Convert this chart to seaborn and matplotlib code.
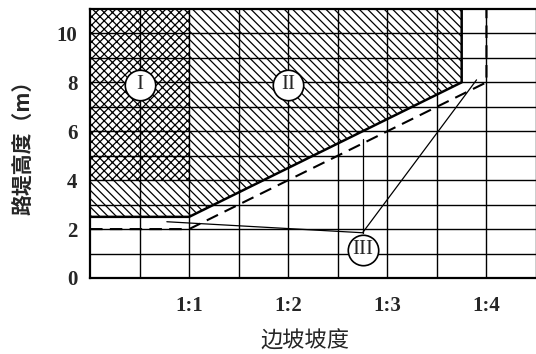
import matplotlib
matplotlib.use("Agg")
import matplotlib.pyplot as plt
import pandas as pd
import seaborn as sns

# 坡度刻度（x 方向每格 0.5，1:1 在第 2 格）
slope_pos = [2, 4, 6, 8]
slope_labels = ["1:1", "1:2", "1:3", "1:4"]
height_ticks = [0, 2, 4, 6, 8, 10]

# 区域 II 下边界（实线）
solid_x = [0, 2, 7.5, 7.5]
solid_y = [2.5, 2.5, 8, 11]

# 虚线边界
dash_x = [0, 2, 8, 8]
dash_y = [2, 2, 8, 11]

# 区域 I：1:1 以内，4m 以上
zone1_x = [0, 2]
zone1_lo = [4, 4]
# 1:1 以内 2.5~4m 斜线
low_x = [0, 2]
low_lo = [2.5, 2.5]
low_hi = [4, 4]
# 区域 II 斜线
zone2_x = [2, 7.5]
zone2_lo = [2.5, 8]

top = 11

# 圆圈标注
zone_names = ["I", "II", "III"]
zone_cx = [1.0, 4.0, 5.5]
zone_cy = [7.9, 7.9, 1.15]

# III 的引线
leader_start = (5.5, 1.85)
leader_end_x = [1.55, 5.5, 7.8]
leader_end_y = [2.3, 5.7, 8.1]


def main():
    sns.set_style("white")
    plt.rcParams["hatch.linewidth"] = 0.9
    plt.rcParams["font.family"] = ["Liberation Serif", "DejaVu Serif"]

    fig = plt.figure(figsize=(5.36, 3.54), dpi=100)
    ax = fig.add_axes([0.168, 0.2147, 0.832, 0.76])

    # 填充
    ax.fill_between(zone1_x, zone1_lo, [top, top], facecolor="white",
                    edgecolor="black", linewidth=0, hatch="xxxx", zorder=1)
    ax.fill_between(low_x, low_lo, low_hi, facecolor="white",
                    edgecolor="black", linewidth=0, hatch="\\\\\\\\", zorder=1)
    ax.fill_between(zone2_x, zone2_lo, [top, top], facecolor="white",
                    edgecolor="black", linewidth=0, hatch="\\\\\\\\", zorder=1)

    # 边界线（x 有重复，不做聚合）
    sns.lineplot(x=solid_x, y=solid_y, sort=False, estimator=None,
                 color="black", lw=1.8, ax=ax, zorder=4)
    sns.lineplot(x=dash_x, y=dash_y, sort=False, estimator=None,
                 color="black", lw=1.5, ax=ax, zorder=4,
                 linestyle=(0, (6, 3.5)))

    # 引线
    for ex, ey in zip(leader_end_x, leader_end_y):
        ax.plot([leader_start[0], ex], [leader_start[1], ey],
                color="black", lw=0.9, zorder=4)

    # 圆圈
    df = pd.DataFrame({"x": zone_cx, "y": zone_cy, "name": zone_names})
    sns.scatterplot(data=df, x="x", y="y", s=480, color="white",
                    edgecolor="black", linewidth=1.2, ax=ax, zorder=5)
    for _, r in df.iterrows():
        ax.text(r["x"], r["y"], r["name"], ha="center", va="center",
                fontsize=15, zorder=6)

    # 网格
    ax.set_xlim(0, 9)
    ax.set_ylim(0, top)
    ax.set_xticks(slope_pos)
    ax.set_xticklabels(slope_labels, fontsize=15, fontweight="bold")
    ax.set_yticks(height_ticks)
    ax.set_yticklabels([str(v) for v in height_ticks], fontsize=15,
                       fontweight="bold")
    for gx in range(1, 10):
        ax.axvline(gx, color="black", lw=1.0, zorder=3)
    for gy in range(1, 11):
        ax.axhline(gy, color="black", lw=1.0, zorder=3)
    ax.tick_params(which="both", length=0)
    ax.tick_params(axis="x", pad=13)
    ax.tick_params(axis="y", pad=9)
    ax.set_xlabel("")
    ax.set_ylabel("")

    for side in ["left", "bottom", "top"]:
        ax.spines[side].set_color("black")
        ax.spines[side].set_linewidth(1.6)
    ax.spines["right"].set_visible(False)

    cjk = ["Noto Sans CJK SC", "DejaVu Sans"]
    fig.text(0.043, 0.599, "路堤高度（m）", rotation=90, ha="center",
             va="center", fontsize=15, fontweight="bold", family=cjk)
    fig.text(0.569, 0.037, "边坡坡度", ha="center", va="center",
             fontsize=16, family=cjk)

    plt.savefig("out.png", dpi=100)
    plt.close()


if __name__ == "__main__":
    main()
